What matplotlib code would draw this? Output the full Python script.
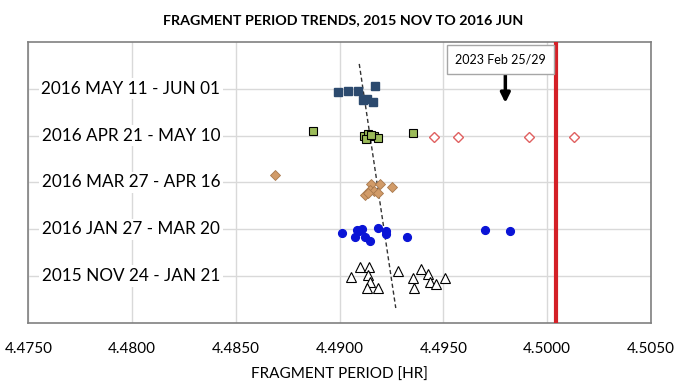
import matplotlib
matplotlib.use('Agg')
import matplotlib.pyplot as plt
import numpy as np

plt.rcParams['font.family'] = ['Lato', 'DejaVu Sans']

# row labels, bottom (1) to top (5)
row_labels = ['2015 NOV 24 - JAN 21', '2016 JAN 27 - MAR 20', '2016 MAR 27 - APR 16',
              '2016 APR 21 - MAY 10', '2016 MAY 11 - JUN 01']

# 2016 MAY 11 - JUN 01 (dark blue squares)
may_x = [4.48992, 4.4904, 4.4909, 4.4917, 4.4911, 4.4913, 4.4916]
may_y = [4.93, 4.95, 4.95, 5.05, 4.77, 4.78, 4.71]

# 2016 APR 21 - MAY 10 (green squares)
apr_x = [4.48872, 4.49119, 4.49134, 4.49127, 4.49167, 4.49184, 4.49150, 4.49351]
apr_y = [4.10, 4.00, 4.04, 3.92, 3.99, 3.95, 4.01, 4.06]
# 2016 APR 21 - MAY 10 (red hollow diamonds)
apr_out_x = [4.49452, 4.49571, 4.49913, 4.50129]
apr_out_y = [3.97, 3.97, 3.97, 3.97]

# 2016 MAR 27 - APR 16 (tan diamonds)
mar_x = [4.48689, 4.49152, 4.49192, 4.49251, 4.49147, 4.49167, 4.49184, 4.49122, 4.49136]
mar_y = [3.15, 2.97, 2.97, 2.91, 2.84, 2.81, 2.78, 2.74, 2.78]

# 2016 JAN 27 - MAR 20 (blue circles)
jan_x = [4.49013, 4.49083, 4.49094, 4.49105, 4.49074, 4.49123, 4.49145, 4.49184,
         4.49222, 4.49224, 4.49324, 4.49701, 4.49822]
jan_y = [1.915, 1.99, 1.97, 2.01, 1.83, 1.83, 1.76, 2.02, 1.97, 1.89, 1.83, 1.98, 1.96]

# 2015 NOV 24 - JAN 21 (hollow triangles)
nov_x = [4.49052, 4.49098, 4.49143, 4.49134, 4.49148, 4.49131, 4.49182, 4.49282,
         4.49391, 4.49353, 4.49425, 4.49360, 4.49435, 4.49462, 4.49508]
nov_y = [0.985, 1.185, 1.185, 1.03, 0.87, 0.745, 0.745, 1.12, 1.15, 0.965, 1.04,
         0.75, 0.87, 0.83, 0.965]

# trend line end points
trend_x = [4.49094, 4.49270]
trend_y = [5.53, 0.32]

red_line_x = 4.5004
note_text = '2023 Feb 25/29'

fig = plt.figure(figsize=(6.86, 3.88), dpi=100)
ax = fig.add_axes([0.0415, 0.1675, 0.9075, 0.7245])

ax.set_xlim(4.4750, 4.5050)
ax.set_ylim(0, 6)
ax.set_xticks(np.arange(4.4750, 4.50501, 0.005))
ax.set_xticklabels(['%.4f' % v for v in np.arange(4.4750, 4.50501, 0.005)], fontsize=11)
ax.set_yticks([1, 2, 3, 4, 5])
ax.set_yticklabels([])
ax.tick_params(length=0, pad=14)
ax.grid(True, color='#d9d9d9', lw=1)
ax.set_axisbelow(True)
for s in ax.spines.values():
    s.set_color('#808080')
    s.set_linewidth(1.2)

ax.plot(may_x, may_y, 's', ms=5.2, color='#2c4a6e', mec='#2c4a6e', zorder=3)
ax.plot(apr_x, apr_y, 's', ms=5.2, color='#9bbb59', mec='black', mew=0.8, zorder=3)
ax.plot(apr_out_x, apr_out_y, 'D', ms=5.5, mfc='white', mec='#e06060', mew=1.0, zorder=3)
ax.plot(mar_x, mar_y, 'D', ms=4.8, color='#d19b68', mec='#a8784c', mew=0.6, zorder=3)
ax.plot(jan_x, jan_y, 'o', ms=5.6, color='#0a14d6', zorder=3)
ax.plot(nov_x, nov_y, '^', ms=7, mfc='white', mec='black', mew=0.8, zorder=3)

ax.plot(trend_x, trend_y, color='#333333', lw=1, ls=(0, (3, 2)), zorder=2)
ax.axvline(red_line_x, color='#d42027', lw=3, zorder=4)

for i, lab in enumerate(row_labels):
    ax.text(4.47994, i + 1, lab, ha='center', va='center', fontsize=12.3,
            bbox=dict(facecolor='white', edgecolor='none', pad=2), zorder=5)

ax.annotate('', xy=(4.49798, 4.64), xytext=(4.49798, 5.36),
            arrowprops=dict(arrowstyle='-|>', color='black', lw=2.5,
                            mutation_scale=14), zorder=5)
ax.text(4.49774, 5.63, note_text, ha='center', va='center', fontsize=9,
        bbox=dict(facecolor='white', edgecolor='#a6a6a6', pad=6), zorder=6)

ax.set_xlabel('FRAGMENT PERIOD [HR]', fontsize=11, labelpad=8)
fig.suptitle('FRAGMENT PERIOD TRENDS, 2015 NOV TO 2016 JUN', fontsize=10.3,
             fontweight='bold', x=0.5, y=0.965)

fig.savefig('out.png', dpi=100)
